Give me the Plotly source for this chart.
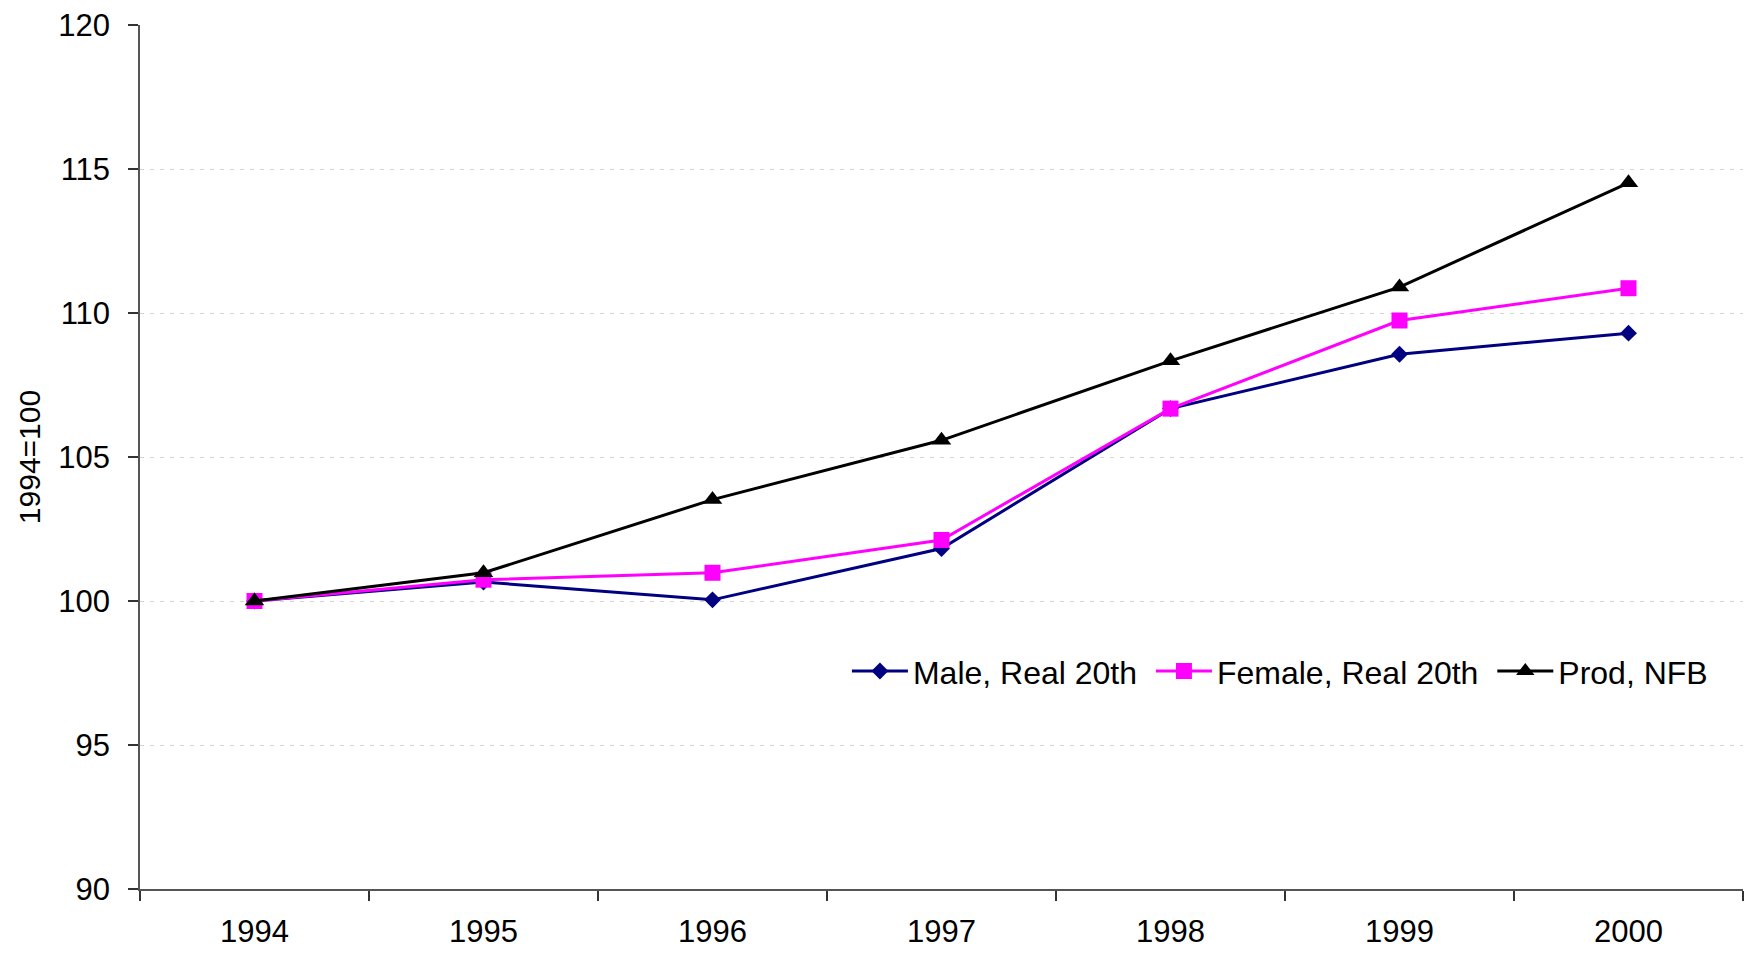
import plotly.graph_objects as go

# Index values, 1994 = 100
years = ["1994", "1995", "1996", "1997", "1998", "1999", "2000"]
male_real_20th = [100.0, 100.66, 100.04, 101.82, 106.68, 108.57, 109.3]
female_real_20th = [100.0, 100.74, 100.98, 102.12, 106.68, 109.74, 110.86]
prod_nfb = [100.0, 100.98, 103.52, 105.58, 108.34, 110.9, 114.52]

y_ticks = [90, 95, 100, 105, 110, 115, 120]

FONT = "Liberation Sans, Arial, sans-serif"
PAD = "&nbsp;"  # extra spacing between legend entries

fig = go.Figure()

fig.add_trace(go.Scatter(
    x=years, y=male_real_20th, name="Male, Real 20th" + PAD,
    mode="lines+markers",
    line=dict(color="#000080", width=3),
    marker=dict(symbol="diamond", size=13, color="#000080"),
))
fig.add_trace(go.Scatter(
    x=years, y=female_real_20th, name="Female, Real 20th" + PAD,
    mode="lines+markers",
    line=dict(color="#FF00FF", width=3),
    marker=dict(symbol="square", size=16, color="#FF00FF"),
))
fig.add_trace(go.Scatter(
    x=years, y=prod_nfb, name="Prod, NFB",
    mode="lines+markers",
    line=dict(color="#000000", width=3),
    marker=dict(symbol="triangle-up", size=17, color="#000000"),
))

fig.update_layout(
    width=1749, height=954,
    margin=dict(l=140, r=6, t=25, b=65, autoexpand=False),
    paper_bgcolor="white", plot_bgcolor="white",
    font=dict(family=FONT, size=31, color="black"),
    showlegend=True,
    legend=dict(
        orientation="h",
        x=0.441, y=0.252, xanchor="left", yanchor="middle",
        font=dict(size=32),
        bgcolor="rgba(0,0,0,0)",
        itemwidth=56,
        tracegroupgap=0,
    ),
)

fig.update_xaxes(
    type="category",
    range=[-0.5, 6.5],
    automargin=False,
    showline=True, linecolor="#555555", linewidth=1.5,
    ticks="outside", tickson="boundaries", ticklen=10, tickcolor="#333333", tickwidth=1.5,
    showgrid=False, zeroline=False,
    tickfont=dict(size=31),
    ticklabelstandoff=14,
)

fig.update_yaxes(
    range=[90, 120],
    automargin=False,
    tickvals=y_ticks,
    ticktext=[str(v) for v in y_ticks],
    showline=True, linecolor="#555555", linewidth=1.5,
    ticks="outside", ticklen=10, tickcolor="#333333", tickwidth=1.5,
    showgrid=True, gridcolor="#d4d4d4", gridwidth=1, griddash="4px,6px",
    zeroline=False,
    tickfont=dict(size=31),
    ticklabelstandoff=12,
    title=dict(text="1994=100", font=dict(size=30), standoff=9),
)

fig.write_html("out.html")
